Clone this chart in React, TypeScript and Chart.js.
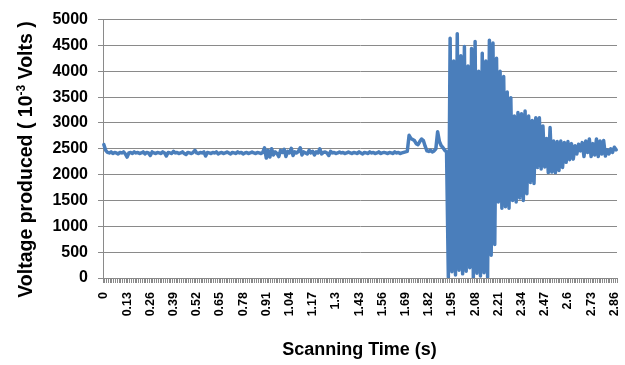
import React, { useEffect, useRef } from 'react';
import { Chart, registerables } from 'chart.js';

Chart.register(...registerables);

const FONT = '"Liberation Sans", Arial, sans-serif';

// Scanning time step (s) between samples
const TIME_STEP = 0.01;

// Tick labels displayed on the x axis
const TICK_LABELS = [
  '0', '0.13', '0.26', '0.39', '0.52', '0.65', '0.78', '0.91', '1.04', '1.17', '1.3', '1.43',
  '1.56', '1.69', '1.82', '1.95', '2.08', '2.21', '2.34', '2.47', '2.6', '2.73', '2.86',
];

// Voltage (10^-3 V), 0 s .. 1.69 s : steady baseline
const BASELINE = [
  2580, 2470, 2430, 2420, 2440, 2410, 2430, 2420, 2400, 2430,
  2420, 2440, 2400, 2340, 2420, 2430, 2410, 2440, 2420, 2430,
  2410, 2420, 2440, 2400, 2430, 2420, 2370, 2440, 2420, 2410,
  2430, 2420, 2410, 2440, 2420, 2360, 2430, 2420, 2410, 2450,
  2420, 2430, 2410, 2420, 2440, 2410, 2390, 2430, 2420, 2410,
  2430, 2470, 2420, 2410, 2430, 2420, 2440, 2360, 2430, 2420,
  2410, 2430, 2420, 2440, 2400, 2420, 2430, 2410, 2420, 2440,
  2420, 2400, 2430, 2420, 2410, 2440, 2420, 2430, 2400, 2420,
  2430, 2410, 2420, 2440, 2420, 2410, 2430, 2420, 2410, 2430,
  2520, 2320, 2470, 2340, 2500, 2380, 2440, 2410, 2350, 2470,
  2430, 2490, 2350, 2450, 2420, 2510, 2370, 2440, 2420, 2450,
  2520, 2380, 2440, 2420, 2400, 2470, 2420, 2450, 2380, 2440,
  2420, 2500, 2400, 2430, 2440, 2420, 2370, 2450, 2420, 2430,
  2410, 2420, 2440, 2420, 2430, 2410, 2420, 2440, 2420, 2410,
  2430, 2420, 2410, 2440, 2420, 2400, 2430, 2420, 2410, 2440,
  2420, 2430, 2410, 2420, 2440, 2410, 2420, 2430, 2420, 2410,
  2430, 2420, 2410, 2440, 2420, 2430, 2410, 2420, 2430, 2440,
];

// Voltage, 1.70 s .. 1.92 s : small bumps before the burst
const TRANSITION = [
  2450, 2760, 2700, 2680, 2660, 2600, 2580, 2640, 2690, 2660,
  2550, 2460, 2450, 2470, 2440, 2460, 2500, 2830, 2640, 2560,
  2520, 2470, 2440,
];

// Voltage, 1.93 s .. 2.87 s : oscillation burst and decay
const OSCILLATION = [
  20, 4640, 120, 4200, 60, 4725, 150, 4300, 80, 4480,
  130, 4100, 200, 4440, 0, 4577, 90, 4000, 40, 4350,
  100, 4200, 20, 4600, 440, 4545, 650, 4250, 1470, 4000,
  1350, 3900, 1380, 3600, 1350, 3490, 1500, 3135, 1470, 3200,
  1550, 3180, 1500, 3230, 1630, 3135, 1850, 3050, 1830, 3100,
  2140, 3100, 2110, 2940, 2150, 2700, 2040, 2910, 2050, 2650,
  2040, 2640, 2080, 2650, 2140, 2620, 2240, 2640, 2290, 2600,
  2300, 2560, 2400, 2590, 2460, 2620, 2350, 2650, 2430, 2690,
  2350, 2600, 2380, 2690, 2350, 2650, 2400, 2660, 2360, 2480,
  2400, 2500, 2430, 2530, 2480,
];

const VOLTAGE = [...BASELINE, ...TRANSITION, ...OSCILLATION];
const TIMES = VOLTAGE.map((_, i) => String(Number((i * TIME_STEP).toFixed(2))));
const SHOWN = new Set(TICK_LABELS);

const titlesPlugin = {
  id: 'axisTitles',
  afterDraw(chart: any) {
    const ctx = chart.ctx as CanvasRenderingContext2D;
    ctx.save();
    ctx.fillStyle = '#000';
    ctx.textBaseline = 'alphabetic';
    // x title
    ctx.font = `bold 18px ${FONT}`;
    ctx.textAlign = 'center';
    ctx.fillText('Scanning Time (s)', 359.5, 355);
    // y title with superscript
    const big = `bold 19.5px ${FONT}`;
    const small = `bold 12px ${FONT}`;
    const p1 = 'Voltage produced ( 10';
    const sup = '-3';
    const p3 = ' Volts )';
    ctx.font = big;
    const w1 = ctx.measureText(p1).width;
    const w3 = ctx.measureText(p3).width;
    ctx.font = small;
    const w2 = ctx.measureText(sup).width;
    const total = w1 + w2 + w3;
    ctx.translate(32, 159.5);
    ctx.rotate(-Math.PI / 2);
    ctx.textAlign = 'left';
    let x = -total / 2;
    ctx.font = big;
    ctx.fillText(p1, x, 0);
    x += w1;
    ctx.font = small;
    ctx.fillText(sup, x, -7);
    x += w2;
    ctx.font = big;
    ctx.fillText(p3, x, 0);
    ctx.restore();
  },
};

export default function App() {
  const ref = useRef<HTMLCanvasElement>(null);
  useEffect(() => {
    const canvas = ref.current;
    if (!canvas) return;
    const axisGray = '#8a8a8a';
    const chart = new Chart(canvas, {
      type: 'line',
      data: {
        labels: TIMES,
        datasets: [
          {
            data: VOLTAGE,
            borderColor: '#4a7ebb',
            borderWidth: 3.5,
            borderJoinStyle: 'round',
            borderCapStyle: 'round',
            pointRadius: 0,
            tension: 0,
            fill: false,
          },
        ],
      },
      options: {
        responsive: false,
        devicePixelRatio: 1,
        animation: false,
        layout: { padding: { top: 18, right: 8, left: 0, bottom: 0 } },
        plugins: { legend: { display: false }, tooltip: { enabled: false } },
        scales: {
          x: {
            type: 'category',
            offset: true,
            grid: {
              offset: true,
              drawOnChartArea: false,
              drawTicks: true,
              tickLength: 5,
              color: axisGray,
              lineWidth: 1,
            },
            border: { display: true, color: axisGray, width: 1 },
            ticks: {
              autoSkip: false,
              minRotation: 90,
              maxRotation: 90,
              padding: 9,
              color: '#000',
              font: { family: FONT, size: 12.5, weight: 'bold' },
              callback: (_v: any, index: number) => (SHOWN.has(TIMES[index]) ? TIMES[index] : ''),
            },
            afterFit: (s: any) => {
              s.height = 87;
              s.paddingLeft = 0;
              s.paddingRight = 0;
            },
          },
          y: {
            min: 0,
            max: 5000,
            ticks: {
              stepSize: 500,
              padding: 10,
              color: '#000',
              font: { family: FONT, size: 16, weight: 'bold' },
              callback: (v: any) => String(v),
            },
            grid: { color: axisGray, lineWidth: 1, tickLength: 5 },
            border: { display: true, color: axisGray, width: 1 },
            afterFit: (s: any) => {
              s.width = 103;
            },
          },
        },
      } as any,
      plugins: [titlesPlugin],
    });
    return () => chart.destroy();
  }, []);
  return (
    <div style={{ position: 'fixed', left: 0, top: 0, width: 625, height: 365, background: '#fff' }}>
      <canvas ref={ref} width={625} height={365} style={{ display: 'block', width: 625, height: 365 }} />
    </div>
  );
}
